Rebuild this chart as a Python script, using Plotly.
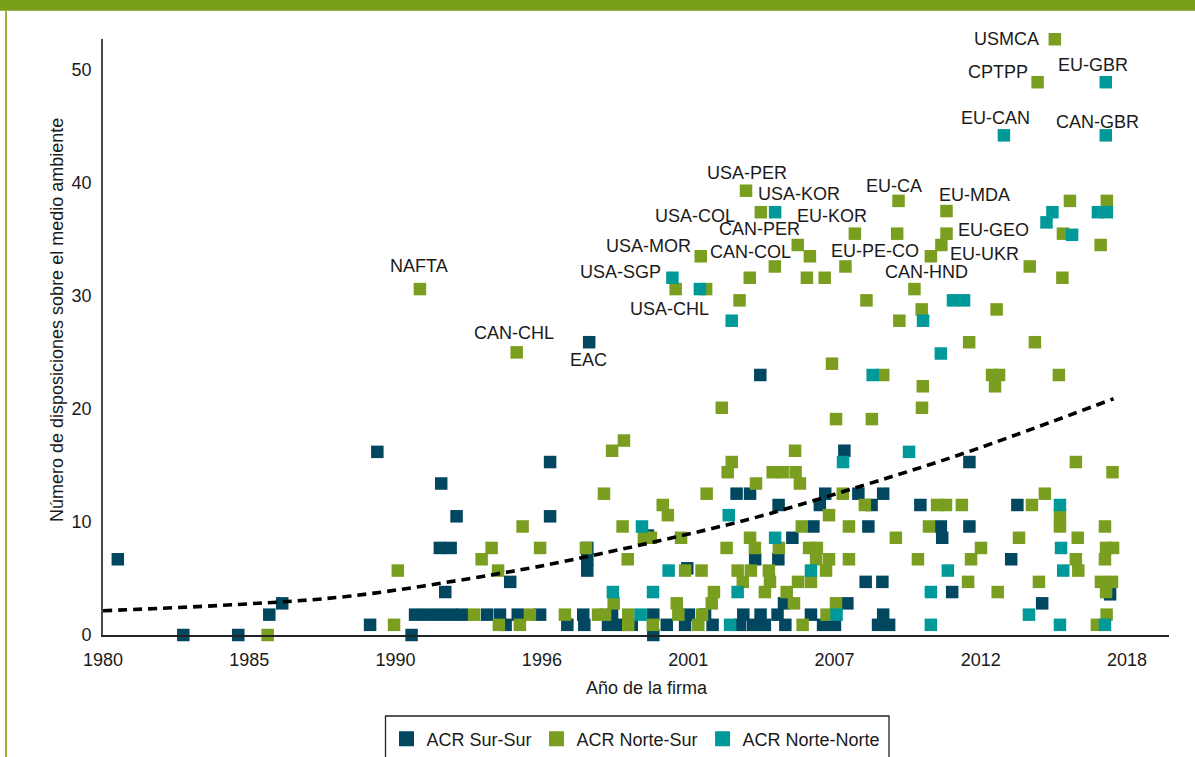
import numpy as np
import plotly.graph_objects as go

# ---------------- data ----------------
series_names = ["ACR Sur-Sur", "ACR Norte-Sur", "ACR Norte-Norte"]
series_colors = ["#00475F", "#7A9E1F", "#009999"]

# (año de la firma, número de disposiciones)
sur_sur = [
    (1980.55, 6.7), (1982.98, 0), (1985.02, 0), (1986.17, 1.8), (1986.65, 2.8),
    (1989.91, 0.9), (1990.18, 16.2), (1991.45, 0), (1991.58, 1.8), (1992.02, 1.8),
    (1992.47, 1.8), (1992.91, 1.8), (1993.32, 1.8), (1994.25, 1.8), (1994.73, 1.8),
    (1992.50, 7.7), (1992.90, 7.7), (1992.55, 13.4), (1992.70, 3.8), (1993.12, 10.5),
    (1995.11, 4.7), (1994.94, 0.9), (1995.39, 1.8), (1996.22, 1.8), (1996.59, 15.3),
    (1996.59, 10.5), (1997.23, 0.9), (1997.82, 1.8), (1997.86, 0.9), (1997.97, 7.7),
    (1997.97, 6.7), (1997.97, 5.7), (1998.04, 25.9), (1998.74, 0.9), (1999.15, 0.9),
    (1998.89, 1.8), (1999.62, 0.9), (2000.22, 8.8), (2000.42, 1.8), (2000.42, 0),
    (2000.92, 0.9), (2001.60, 0.9), (2001.68, 5.9), (2001.74, 1.8), (2002.34, 1.8),
    (2002.62, 0.9), (2003.51, 12.5), (2004.01, 12.5), (2003.64, 0.9), (2003.76, 1.8),
    (2004.12, 0.9), (2004.56, 0.9), (2004.20, 6.7), (2004.39, 23.0), (2004.40, 1.8),
    (2005.03, 1.8), (2005.06, 6.7), (2005.07, 11.5), (2005.27, 2.8), (2005.32, 0.9),
    (2005.58, 8.6), (2006.27, 1.8), (2006.36, 9.6), (2006.60, 11.5), (2006.72, 0.9),
    (2007.16, 0.9), (2006.80, 12.5), (2007.51, 16.3), (2007.62, 2.8), (2008.03, 12.5),
    (2008.30, 4.7), (2008.40, 9.6), (2008.52, 11.5), (2008.76, 0.9), (2009.17, 0.9),
    (2008.92, 4.7), (2008.95, 12.5), (2008.95, 1.8), (2010.33, 11.5), (2011.09, 9.6),
    (2011.14, 8.6), (2011.51, 3.8), (2012.15, 9.6), (2012.15, 15.3), (2013.70, 6.7),
    (2013.93, 11.5), (2014.85, 2.8), (2017.37, 3.6),
]

norte_sur = [
    (1986.11, 0), (1990.80, 0.9), (1990.94, 5.7), (1991.76, 30.6), (1993.77, 1.8),
    (1994.05, 6.7), (1994.42, 7.7), (1994.66, 5.7), (1994.69, 0.9), (1995.35, 25.0),
    (1995.47, 0.9), (1995.57, 9.6), (1995.84, 1.8), (1996.22, 7.7), (1997.14, 1.8),
    (1997.92, 7.7), (1998.37, 1.8), (1998.63, 1.8), (1998.59, 12.5), (1998.89, 16.3),
    (1998.95, 2.8), (1999.28, 9.6), (1999.33, 17.2), (1999.47, 6.7), (1999.49, 1.8),
    (1999.49, 0.9), (2000.07, 8.6), (2000.33, 8.6), (2000.40, 0.9), (2000.77, 11.5),
    (2000.96, 10.6), (2001.25, 30.6), (2001.29, 2.8), (2001.35, 1.8), (2001.45, 8.6),
    (2001.60, 5.7), (2002.09, 0.9), (2002.18, 33.5), (2002.21, 5.7), (2002.23, 1.8),
    (2002.38, 30.6), (2002.40, 12.5), (2002.59, 2.8), (2002.67, 3.8), (2002.96, 20.1),
    (2003.14, 7.7), (2003.18, 14.4), (2003.33, 15.3), (2003.62, 29.6), (2003.55, 5.7),
    (2003.74, 4.7), (2003.86, 39.3), (2004.04, 5.7), (2004.00, 31.6), (2004.01, 8.6),
    (2004.19, 7.7), (2004.23, 13.4), (2004.41, 37.4), (2004.56, 3.8), (2004.71, 5.7),
    (2004.75, 4.7), (2004.85, 14.4), (2005.22, 14.4), (2004.93, 32.6), (2005.08, 7.7),
    (2005.37, 3.8), (2005.64, 2.8), (2005.68, 16.3), (2005.70, 14.4), (2005.78, 34.5),
    (2005.79, 4.7), (2006.27, 4.7), (2005.86, 13.4), (2005.93, 9.6), (2005.96, 0.9),
    (2006.12, 31.6), (2006.20, 7.7), (2006.49, 7.7), (2006.23, 33.5), (2006.46, 6.7),
    (2006.94, 6.7), (2006.78, 31.6), (2006.83, 5.7), (2006.85, 1.8), (2006.94, 10.6),
    (2007.05, 24.0), (2007.20, 19.1), (2007.20, 2.8), (2007.45, 12.5), (2007.55, 32.6),
    (2007.68, 9.6), (2007.68, 6.7), (2007.90, 35.5), (2008.27, 11.5), (2008.33, 29.6),
    (2008.53, 19.1), (2008.95, 23.0), (2009.42, 8.6), (2009.47, 35.5), (2009.52, 38.4),
    (2009.55, 27.8), (2010.11, 30.6), (2010.24, 6.7), (2010.38, 28.8), (2010.42, 22.0),
    (2010.39, 20.1), (2010.65, 9.6), (2010.72, 33.5), (2010.95, 11.5), (2011.28, 11.5),
    (2011.11, 34.5), (2011.30, 35.5), (2011.30, 37.5), (2011.87, 11.5), (2012.10, 4.7),
    (2012.14, 25.9), (2012.21, 6.7), (2012.58, 7.7), (2012.99, 23.0), (2013.25, 23.0),
    (2013.10, 22.0), (2013.16, 28.8), (2013.20, 3.8), (2013.99, 8.6), (2014.39, 32.6),
    (2014.47, 11.5), (2014.58, 25.9), (2014.68, 48.9), (2014.73, 4.7), (2014.95, 12.5),
    (2015.32, 52.7), (2015.47, 23.0), (2015.51, 10.6), (2015.51, 9.6), (2015.60, 31.6),
    (2015.62, 35.5), (2015.88, 38.4), (2016.10, 15.3), (2016.10, 6.7), (2016.17, 8.6),
    (2016.19, 5.7), (2016.88, 0.9), (2017.02, 34.5), (2017.03, 4.7), (2017.44, 4.7),
    (2017.18, 9.6), (2017.18, 6.7), (2017.22, 7.7), (2017.48, 7.7), (2017.22, 3.8),
    (2017.24, 1.8), (2017.25, 38.4), (2017.46, 14.4),
]

norte_norte = [
    (1998.92, 3.8), (1999.95, 1.8), (2000.00, 9.6), (2000.41, 3.8), (2000.99, 5.7),
    (2001.13, 31.6), (2002.15, 30.6), (2003.22, 10.6), (2003.27, 0.9), (2003.33, 27.8),
    (2003.55, 3.8), (2004.94, 8.6), (2004.94, 37.4), (2006.27, 5.7), (2007.22, 1.8),
    (2007.46, 15.3), (2008.56, 23.0), (2009.91, 16.2), (2010.43, 27.8), (2010.72, 3.8),
    (2010.72, 0.9), (2011.09, 24.9), (2011.35, 5.7), (2011.54, 29.6), (2011.95, 29.6),
    (2013.43, 44.2), (2014.36, 1.8), (2015.01, 36.5), (2015.23, 37.4), (2015.51, 11.5),
    (2015.51, 0.9), (2015.55, 7.7), (2015.63, 5.7), (2015.96, 35.4), (2016.92, 37.4),
    (2017.25, 37.4), (2017.18, 0.9), (2017.21, 48.9), (2017.21, 44.2),
]

# dashed trend curve, read at several points along it
trend_years = [1980.0, 1985.0, 1989.2, 1995.1, 1997.8, 2003.9, 2008.3, 2012.1, 2017.5]
trend_values = [2.15, 2.7, 3.45, 5.6, 6.85, 10.2, 13.3, 16.2, 20.9]

# labelled agreements (text, year, value of label centre)
label_texts = ["USMCA", "CPTPP", "EU-GBR", "EU-CAN", "CAN-GBR", "USA-PER", "USA-KOR",
               "EU-CA", "EU-MDA", "USA-COL", "EU-KOR", "CAN-PER", "EU-GEO", "USA-MOR",
               "CAN-COL", "EU-PE-CO", "EU-UKR", "USA-SGP", "CAN-HND", "USA-CHL",
               "NAFTA", "CAN-CHL", "EAC"]
label_years = [2013.53, 2013.22, 2016.72, 2013.12, 2016.91, 2003.90, 2005.81,
               2009.36, 2012.33, 2001.95, 2007.06, 2004.36, 2013.06, 2000.25,
               2004.02, 2008.66, 2012.70, 1999.20, 2010.56, 2001.03,
               1991.74, 1995.26, 1998.03]
label_values = [52.7, 49.8, 50.4, 45.7, 45.4, 40.9, 39.0,
                39.7, 38.9, 37.1, 37.1, 35.9, 35.8, 34.4,
                33.9, 34.0, 33.7, 32.1, 32.1, 28.8,
                32.6, 26.7, 24.3]

x_tick_labels = ["1980", "1985", "1990", "1996", "2001", "2007", "2012", "2018"]
y_tick_values = [0, 10, 20, 30, 40, 50]

# ---------------- figure ----------------
FONT = "Liberation Sans, Arial, Helvetica, sans-serif"
TXT = "#1a1a1a"
FS = 18
W, H = 1195, 757
L, R, T, B = 103, 26, 39, 122
PW, PH = W - L - R, H - T - B


def px_to_paper(px, py):
    return (px - L) / PW, (H - B - py) / PH


fig = go.Figure()

for name, color, pts in zip(series_names, series_colors, [sur_sur, norte_sur, norte_norte]):
    xs = [p[0] for p in pts]
    ys = [p[1] for p in pts]
    fig.add_trace(go.Scatter(
        x=xs, y=ys, mode="markers", name=name, showlegend=False,
        marker=dict(symbol="square", size=12.5, color=color, line=dict(width=0)),
        cliponaxis=False,
    ))

fig.add_trace(go.Scatter(
    x=trend_years, y=trend_values, mode="lines", showlegend=False,
    line=dict(color="black", width=3.6, dash="9px,6px", shape="spline", smoothing=1.0),
    cliponaxis=False,
))

# legend-only entries (bigger squares, as in the reference legend)
for name, color in zip(series_names, series_colors):
    fig.add_trace(go.Scatter(
        x=[None], y=[None], mode="markers", name=name, showlegend=True,
        marker=dict(symbol="square", size=15, color=color, line=dict(width=0)),
    ))

for t, xv, yv in zip(label_texts, label_years, label_values):
    fig.add_annotation(x=xv, y=yv, xref="x", yref="y", text=t, showarrow=False,
                       xanchor="center", yanchor="middle",
                       font=dict(family=FONT, size=FS, color=TXT))

# axis titles
ax, ay = px_to_paper(57, 320)
fig.add_annotation(x=ax, y=ay, xref="paper", yref="paper", textangle=-90,
                   text="Número de disposiciones sobre el medio ambiente", showarrow=False,
                   xanchor="center", yanchor="middle", font=dict(family=FONT, size=FS, color=TXT))
ax, ay = px_to_paper(647, 688)
fig.add_annotation(x=ax, y=ay, xref="paper", yref="paper",
                   text="Año de la firma", showarrow=False,
                   xanchor="center", yanchor="middle", font=dict(family=FONT, size=FS, color=TXT))

# decorative frame: green top band, thin green left rule, legend box
x0, y0 = px_to_paper(0, 0)
x1, y1 = px_to_paper(W, 10.7)
fig.add_shape(type="rect", xref="paper", yref="paper", x0=x0, x1=x1, y0=y1, y1=y0,
              fillcolor="#7A9F1A", line=dict(width=0), layer="above")
x0, y0 = px_to_paper(5, 10)
x1, y1 = px_to_paper(7, H + 5)
fig.add_shape(type="rect", xref="paper", yref="paper", x0=x0, x1=x1, y0=y1, y1=y0,
              fillcolor="#95B83C", line=dict(width=0), layer="above")
x0, y0 = px_to_paper(385.5, 716)
x1, y1 = px_to_paper(889, 775)
fig.add_shape(type="rect", xref="paper", yref="paper", x0=x0, x1=x1, y0=y1, y1=y0,
              fillcolor="rgba(0,0,0,0)", line=dict(width=1.3, color="#222"))

lx, ly = px_to_paper(636, 739)
fig.update_layout(
    width=W, height=H,
    margin=dict(l=L, r=R, t=T, b=B, autoexpand=False),
    paper_bgcolor="white", plot_bgcolor="white",
    font=dict(family=FONT, size=FS, color=TXT),
    showlegend=True,
    legend=dict(orientation="h", x=lx, y=ly, xanchor="center", yanchor="middle",
                font=dict(family=FONT, size=FS, color=TXT), bgcolor="rgba(0,0,0,0)",
                borderwidth=0, itemwidth=30),
    xaxis=dict(range=[1980, 2019.556], tickvals=list(np.linspace(1980, 2018, len(x_tick_labels))),
               ticktext=x_tick_labels, showline=True, linecolor="#222", linewidth=1.6,
               showgrid=False, zeroline=False, ticks="", ticklabelstandoff=8,
               tickfont=dict(family=FONT, size=FS, color=TXT)),
    yaxis=dict(range=[0, 52.72], tickvals=y_tick_values, showline=True, linecolor="#4a4a4a",
               linewidth=1.6, showgrid=False, zeroline=False, ticks="", ticklabelstandoff=6,
               tickfont=dict(family=FONT, size=FS, color=TXT)),
)

# remove the browser's default 8px page margin so the figure sits at the window origin
fig.write_html("out.html", config={"displayModeBar": False},
               post_script="document.body.style.margin='0';document.body.style.overflow='hidden';")
